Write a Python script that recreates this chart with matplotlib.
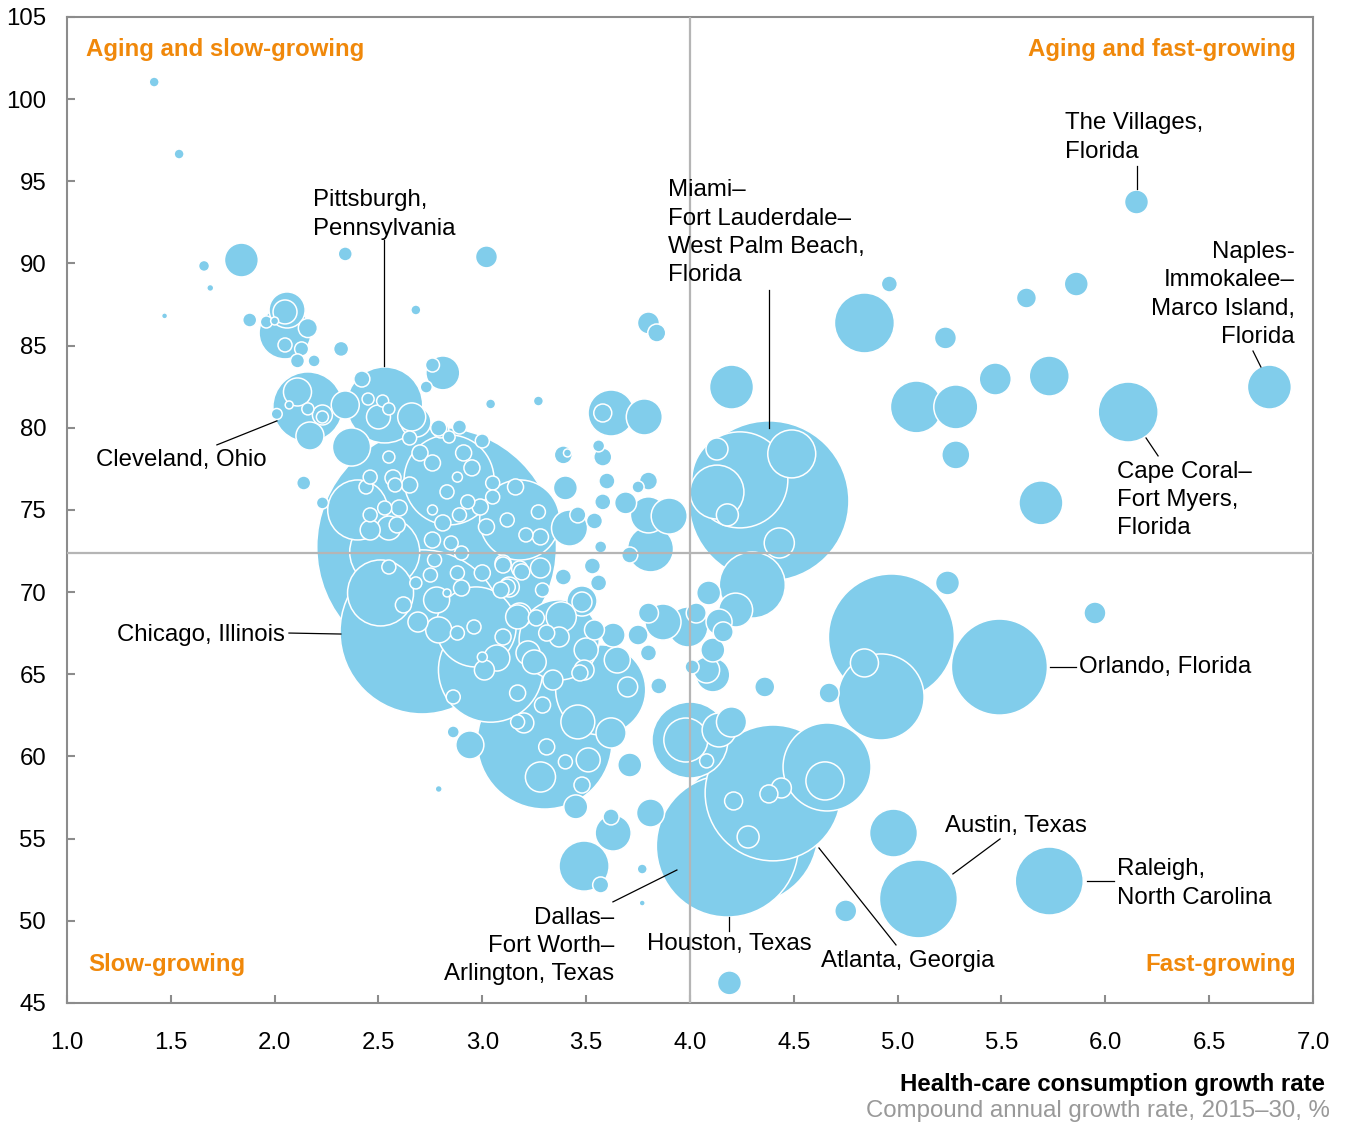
import numpy as np
import matplotlib
matplotlib.use("Agg")
import matplotlib.pyplot as plt

plt.rcParams['font.family'] = ['Liberation Sans', 'DejaVu Sans']

# each row: (health-care consumption growth %, aging index, population in millions)
far_west = [
    (1.42, 101.04, .033), (1.54, 96.66, .033), (1.66, 89.85, .04), (1.69, 88.51, .016),
    (1.47, 86.81, .012), (1.84, 90.21, .38), (1.88, 86.56, .065), (2.34, 90.58, .065),
    (2.68, 87.17, .033), (3.02, 90.40, .16), (3.04, 81.45, .033), (3.27, 81.63, .033),
    (2.14, 76.64, .065), (2.23, 75.43, .048), (2.79, 58.02, .016), (3.77, 51.08, .012),
    (3.77, 53.15, .033),
]

rust_belt = [
    (2.06, 87.17, .43), (2.05, 85.77, .89), (2.05, 87.05, .19), (2.16, 86.07, .12),
    (2.05, 85.04, .065), (2.13, 84.80, .065), (2.11, 84.07, .065), (2.19, 84.07, .048),
    (1.96, 86.44, .048), (2.00, 86.50, .021), (2.32, 84.80, .075),
    (2.11, 82.18, .26), (2.23, 80.78, .132), (2.23, 80.66, .048), (2.16, 81.15, .048),
    (2.07, 81.39, .021), (2.01, 80.84, .04), (2.17, 79.50, .26), (2.34, 81.39, .26),
]

northeast = [
    (2.42, 82.97, .085), (2.81, 83.34, .38), (2.76, 83.82, .065), (2.73, 82.48, .048),
    (2.45, 81.75, .048), (2.52, 81.63, .048), (2.55, 81.15, .048), (2.66, 80.66, .26),
    (2.50, 80.66, .19), (2.37, 78.83, .48), (2.80, 79.87, .085), (2.89, 80.05, .065),
    (2.65, 79.38, .065), (2.84, 79.44, .048), (2.70, 78.47, .085), (2.76, 77.86, .085),
    (2.55, 78.22, .048), (2.57, 76.95, .085), (2.65, 76.52, .085), (2.44, 76.40, .065),
    (2.46, 77.00, .065), (2.88, 77.00, .033), (2.68, 80.35, .30), (2.79, 79.99, .085),
    (3.00, 79.20, .065), (2.91, 78.47, .085), (2.95, 77.56, .085), (2.58, 76.52, .065),
    (2.83, 76.10, .065), (2.93, 75.49, .065), (3.05, 76.64, .065), (3.16, 76.40, .085),
    (2.99, 75.18, .085), (3.05, 75.79, .065), (2.76, 75.00, .033), (2.60, 75.12, .085),
    (2.53, 75.12, .065), (2.46, 74.70, .065), (2.46, 73.78, .132), (2.55, 73.90, .19),
    (2.59, 74.09, .085), (2.81, 74.21, .085), (2.76, 73.17, .085), (2.85, 72.99, .065),
    (2.89, 74.70, .065), (3.02, 73.97, .085), (3.12, 74.39, .065), (3.27, 74.88, .065),
    (3.28, 73.36, .085), (3.21, 73.48, .065), (2.90, 72.38, .065), (2.77, 71.96, .065),
    (2.55, 71.53, .065), (3.10, 71.77, .085), (3.18, 71.41, .085),
]

big_unlabelled = [
    (2.78, 72.75, 19.0), (3.30, 60.90, 6.0), (3.04, 65.26, 3.6), (3.57, 64.05, 2.68),
    (2.40, 75.00, 1.19), (2.53, 72.44, 1.62), (2.51, 69.95, 1.44), (2.97, 67.88, 2.12),
    (3.37, 67.09, 2.12), (2.84, 76.83, 2.68), (3.18, 74.39, 2.12),
]

midwest_east = [
    (3.39, 78.35, .107), (3.41, 78.47, .021), (3.56, 78.90, .048), (3.58, 78.22, .107),
    (3.40, 76.34, .19), (3.60, 76.76, .085), (3.80, 76.76, .107), (3.75, 76.40, .048),
    (3.58, 75.49, .085), (3.69, 75.43, .16), (3.80, 74.70, .43), (3.90, 74.63, .43),
    (3.81, 72.63, .70), (3.71, 72.26, .085), (3.57, 72.75, .048), (3.54, 74.33, .085),
    (3.42, 73.90, .43), (3.46, 74.70, .085),
]

central = [
    (3.53, 71.59, .085), (3.56, 70.56, .085), (3.48, 69.46, .30), (3.48, 69.40, .132),
    (3.39, 70.92, .085), (3.28, 71.47, .132), (3.19, 71.23, .085), (3.10, 71.65, .085),
    (3.12, 70.31, .085), (3.00, 71.17, .085), (2.90, 70.25, .085), (2.83, 69.95, .021),
    (3.29, 70.13, .065), (3.26, 68.43, .085), (3.18, 68.61, .19), (3.31, 67.51, .085),
    (3.10, 67.27, .085), (2.96, 67.88, .065), (2.88, 67.51, .065), (3.00, 66.05, .033),
    (3.22, 66.30, .19), (3.38, 68.49, .30), (3.50, 66.48, .19), (3.63, 67.39, .19),
    (3.75, 67.39, .132), (3.80, 68.73, .132), (3.80, 66.30, .085), (3.65, 65.87, .224),
    (3.54, 67.70, .132), (3.49, 65.26, .132), (3.87, 68.18, .43), (3.99, 67.88, .53),
    (4.01, 65.45, .065), (2.68, 70.56, .048), (2.75, 71.04, .065), (2.88, 71.17, .065),
    (2.62, 69.22, .085), (2.69, 68.18, .132), (2.78, 69.52, .224), (2.79, 67.70, .224),
    (3.09, 70.13, .085), (3.13, 70.31, .132), (3.17, 68.49, .19), (3.37, 67.27, .132),
    (3.01, 65.26, .132), (3.07, 65.99, .224), (3.34, 64.65, .132), (3.17, 63.86, .085),
    (3.29, 63.13, .085), (3.20, 62.04, .132), (3.17, 62.10, .065), (3.47, 65.08, .085),
    (3.70, 64.23, .132), (3.85, 64.29, .085), (3.46, 62.10, .38), (3.62, 61.43, .30),
    (3.71, 59.48, .19), (3.51, 59.79, .19), (3.40, 59.67, .065), (3.31, 60.58, .085),
    (3.28, 58.75, .30), (3.48, 58.26, .085), (3.45, 56.93, .19), (2.86, 63.62, .065),
    (2.86, 61.49, .048), (2.94, 60.70, .26), (3.25, 65.75, .19),
]

south = [
    (3.81, 56.56, .26), (3.63, 55.34, .43), (3.62, 56.32, .085), (3.57, 52.18, .085),
    (3.49, 53.33, .83), (4.36, 64.23, .132), (4.67, 63.86, .132), (4.19, 46.22, .19),
    (4.75, 50.60, .16), (4.11, 64.96, .38), (4.00, 61.00, 1.91), (3.98, 61.00, .64),
    (4.20, 62.10, .30), (4.14, 61.61, .38), (4.08, 59.73, .065), (4.21, 57.29, .107),
    (4.28, 55.10, .16), (4.38, 57.72, .107), (4.44, 58.08, .132), (4.66, 59.36, 2.56),
    (4.65, 58.51, .48), (4.97, 67.27, 5.25), (4.92, 63.62, 2.45), (4.84, 65.69, .26),
    (5.24, 70.56, .19), (5.95, 68.73, .16), (4.98, 55.34, .76),
]

southeast = [
    (4.24, 76.83, 3.05), (4.13, 78.71, .16), (4.49, 78.41, .76), (4.18, 74.70, .16),
    (4.43, 72.99, .30), (4.13, 76.09, .96), (4.20, 82.48, .64), (4.30, 70.43, 1.44),
    (4.09, 69.95, .19), (4.22, 68.91, .38), (4.14, 68.18, .224), (4.16, 67.58, .132),
    (4.03, 68.73, .132), (4.11, 66.48, .19), (4.08, 65.26, .224), (3.62, 80.90, .70),
    (3.58, 80.90, .107), (3.78, 80.66, .43), (3.80, 86.38, .16), (3.84, 85.77, .107),
]

retirement = [
    (4.96, 88.75, .085), (5.86, 88.75, .19), (5.62, 87.90, .132), (4.84, 86.38, 1.19),
    (5.23, 85.47, .16), (5.09, 81.27, .89), (5.28, 81.27, .64), (5.47, 82.97, .34),
    (5.73, 83.15, .53), (5.28, 78.35, .26), (5.69, 75.43, .64),
]

metro_names = ["Pittsburgh", "Cleveland", "Chicago", "Miami", "The Villages", "Naples",
               "Cape Coral", "Orlando", "Austin", "Raleigh", "Atlanta", "Houston", "Dallas"]
metro_growth = [2.53, 2.16, 2.71, 4.38, 6.15, 6.79, 6.11, 5.49, 5.10, 5.73, 4.40, 4.18, 4.27]
metro_aging = [81.39, 81.27, 67.58, 75.55, 93.74, 82.48, 80.96, 65.44, 51.33, 52.42, 57.78, 54.55, 55.40]
metro_pop = [1.91, 1.62, 8.9, 8.47, .19, .64, 1.19, 3.05, 2.01, 1.53, 6.1, 6.67, 6.86]

us_growth = 4.0
us_aging = 72.4

x_ticks = np.arange(1.0, 7.01, 0.5)
y_ticks = np.arange(45, 106, 5)

BLUE = '#81CDEB'
ORANGE = '#F0880A'
AXIS_GREY = '#8c8c8c'
FS = 17.3
POINTS2_PER_MILLION = 1568

rows = (far_west + rust_belt + northeast + big_unlabelled + midwest_east + central
        + south + southeast + retirement
        + list(zip(metro_growth, metro_aging, metro_pop)))
data = np.array(rows)
data = data[np.argsort(-data[:, 2], kind='stable')]  # largest first so small ones stay visible

fig = plt.figure(figsize=(13.5, 11.24), dpi=100)
ax = fig.add_axes([0.0496, 0.1077, 0.923, 0.8772])

ax.scatter(data[:, 0], data[:, 1], s=data[:, 2] * POINTS2_PER_MILLION, c=BLUE,
           edgecolors='white', linewidths=1.1, zorder=2)

ax.axvline(us_growth, color='#b5b5b5', lw=1.6, zorder=3)
ax.axhline(us_aging, color='#b5b5b5', lw=1.6, zorder=3)

ax.set_xlim(1.0, 7.0)
ax.set_ylim(45, 105)
ax.set_xticks(x_ticks)
ax.set_xticklabels([f"{t:.1f}" for t in x_ticks])
ax.set_yticks(y_ticks)
ax.set_yticklabels([f"{t:d}" for t in y_ticks])
ax.tick_params(axis='both', direction='in', length=6, width=1.5, color=AXIS_GREY,
               labelsize=FS, labelcolor='black')
ax.tick_params(axis='y', pad=15)
ax.tick_params(axis='x', pad=21)
for side in ax.spines.values():
    side.set_color(AXIS_GREY)
    side.set_linewidth(1.5)

# metro call-outs: text, anchor, alignment, leader line
callouts = [
    ("Pittsburgh,\nPennsylvania", (2.185, 92.98), 'left', [(2.526, 91.43), (2.526, 83.76)]),
    ("Cleveland, Ohio", (1.14, 78.04), 'left', [(1.722, 78.96), (2.011, 80.42)]),
    ("Chicago, Illinois", (2.05, 67.39), 'right', [(2.069, 67.51), (2.319, 67.45)]),
    ("Miami–\nFort Lauderdale–\nWest Palm Beach,\nFlorida", (3.894, 91.86), 'left',
     [(4.38, 88.39), (4.38, 79.99)]),
    ("The Villages,\nFlorida", (5.806, 97.67), 'left', [(6.152, 95.93), (6.152, 94.53)]),
    ("Naples-\nImmokalee–\nMarco Island,\nFlorida", (6.913, 88.11), 'right',
     [(6.711, 84.67), (6.749, 83.7)]),
    ("Cape Coral–\nFort Myers,\nFlorida", (6.056, 75.61), 'left', [(6.196, 79.38), (6.254, 78.29)]),
    ("Orlando, Florida", (5.873, 65.45), 'left', [(5.733, 65.45), (5.859, 65.45)]),
    ("Austin, Texas", (5.228, 55.77), 'left', [(5.266, 52.85), (5.493, 54.98)]),
    ("Raleigh,\nNorth Carolina", (6.056, 52.27), 'left', [(5.912, 52.42), (6.042, 52.42)]),
    ("Atlanta, Georgia", (4.631, 47.56), 'left', [(4.621, 54.43), (4.992, 48.53)]),
    ("Houston, Texas", (4.188, 48.59), 'center', [(4.188, 50.23), (4.188, 49.38)]),
    ("Dallas–\nFort Worth–\nArlington, Texas", (3.634, 48.47), 'right',
     [(3.629, 51.15), (3.937, 53.09)]),
]
for text, (tx, ty), ha, line in callouts:
    ax.text(tx, ty, text, ha=ha, va='center', fontsize=FS, linespacing=1.37, zorder=5)
    (x0, y0), (x1, y1) = line
    ax.plot([x0, x1], [y0, y1], color='black', lw=0.9, zorder=4)

quad = dict(color=ORANGE, fontsize=FS, fontweight='bold', transform=ax.transAxes, va='center')
ax.text(0.0152, 0.9675, "Aging and slow-growing", ha='left', **quad)
ax.text(0.9864, 0.9675, "Aging and fast-growing", ha='right', **quad)
ax.text(0.0169, 0.0385, "Slow-growing", ha='left', **quad)
ax.text(0.9864, 0.0385, "Fast-growing", ha='right', **quad)

fig.text(0.9815, 0.0347, "Health-care consumption growth rate", ha='right', va='center',
         fontsize=FS, fontweight='bold')
fig.text(0.9852, 0.0116, "Compound annual growth rate, 2015–30, %", ha='right', va='center',
         fontsize=FS, color='#999999')

fig.savefig("out.png", dpi=100)
